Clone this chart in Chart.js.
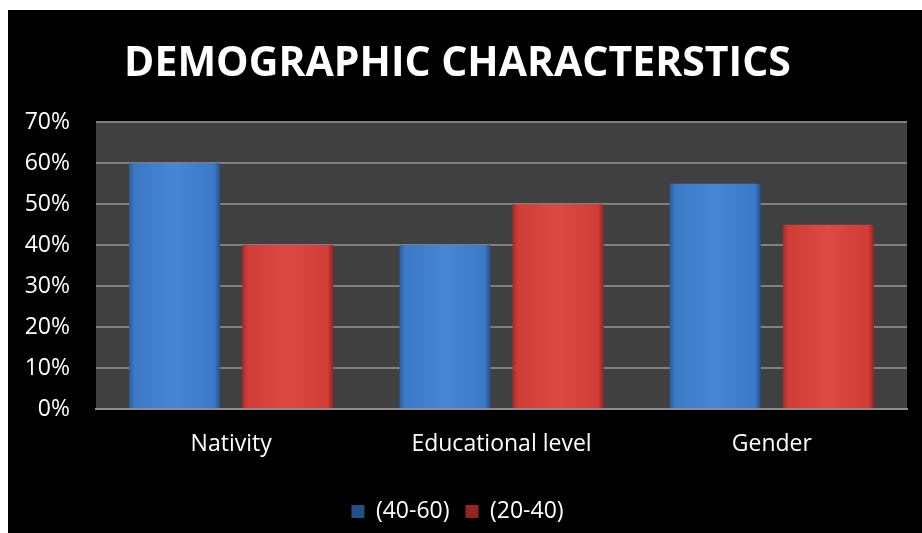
<!DOCTYPE html>
<html>
<head>
<meta charset="utf-8">
<script src="https://cdn.jsdelivr.net/npm/chart.js@4/dist/chart.umd.min.js"></script>
<style>
  html, body { margin: 0; padding: 0; background: #fff; }
  #wrap { position: absolute; left: 8px; top: 10px; width: 914px; height: 523px; background: #000; }
</style>
</head>
<body>
<div id="wrap"><canvas id="chart" width="914" height="523"></canvas></div>
<script>
const categories = ['Nativity', 'Educational level', 'Gender'];
const seriesNames = ['(40-60)', '(20-40)'];
const older = [60, 40, 55];
const younger = [40, 50, 45];
const yTicks = [0, 10, 20, 30, 40, 50, 60, 70];

const CAT_PCT = 0.837;
const BAR_PCT = 0.805;

const shades = [
    ['#2a5c9c', '#3b79c6', '#4686d3', '#3b79c6', '#234f88'],
    ['#a52c27', '#d03c36', '#dc4a43', '#d03c36', '#922521'],
];

function barFill(context) {
    const chart = context.chart;
    const x = chart.scales.x;
    const set = shades[context.datasetIndex];
    if (!x || context.dataIndex === undefined || !chart.chartArea) return set[1];
    const catW = x.width / categories.length;
    const slot = catW * CAT_PCT / 2;
    const cx = x.getPixelForValue(context.dataIndex) + (context.datasetIndex - 0.5) * slot;
    const half = slot * BAR_PCT / 2;
    const g = chart.ctx.createLinearGradient(cx - half, 0, cx + half, 0);
    g.addColorStop(0, set[0]);
    g.addColorStop(0.06, set[1]);
    g.addColorStop(0.5, set[2]);
    g.addColorStop(0.94, set[3]);
    g.addColorStop(1, set[4]);
    return g;
}

const plotBg = {
    id: 'plotBg',
    beforeDraw(chart) {
        const a = chart.chartArea;
        chart.ctx.save();
        chart.ctx.fillStyle = '#404040';
        chart.ctx.fillRect(a.left, a.top, a.right - a.left, a.bottom - a.top);
        chart.ctx.restore();
    }
};

new Chart(document.getElementById('chart'), {
    type: 'bar',
    data: {
        labels: categories,
        datasets: [
            { label: seriesNames[0], data: older, backgroundColor: barFill },
            { label: seriesNames[1], data: younger, backgroundColor: barFill },
        ]
    },
    options: {
        responsive: false,
        animation: false,
        categoryPercentage: CAT_PCT,
        barPercentage: BAR_PCT,
        layout: { padding: { left: 0, right: 15, top: 0, bottom: 0 } },
        plugins: {
            title: {
                display: true,
                text: 'DEMOGRAPHIC CHARACTERSTICS',
                color: '#fff',
                font: { family: 'Open Sans', size: 41, weight: 'bold' },
                padding: { top: 30, bottom: 33 }
            },
            legend: {
                position: 'bottom',
                labels: {
                    color: '#fff',
                    boxWidth: 13,
                    boxHeight: 13,
                    padding: 16,
                    font: { family: 'Open Sans', size: 23 }
                }
            },
            tooltip: { enabled: false }
        },
        scales: {
            x: {
                grid: { display: false, drawTicks: false },
                border: { display: true, color: '#8c8c8c', width: 2 },
                ticks: { color: '#fff', padding: 22, font: { family: 'Open Sans', size: 23 } },
                afterFit(scale) { scale.height = 75; }
            },
            y: {
                min: 0,
                max: 70,
                afterBuildTicks(scale) { scale.ticks = yTicks.map(v => ({ value: v })); },
                grid: { color: '#808080', lineWidth: 2, drawTicks: false },
                border: { display: false },
                ticks: {
                    color: '#fff',
                    padding: 26,
                    font: { family: 'Open Sans', size: 23 },
                    callback: v => v + '%'
                },
                afterFit(scale) { scale.width = 88; }
            }
        }
    },
    plugins: [plotBg]
});
</script>
</body>
</html>
